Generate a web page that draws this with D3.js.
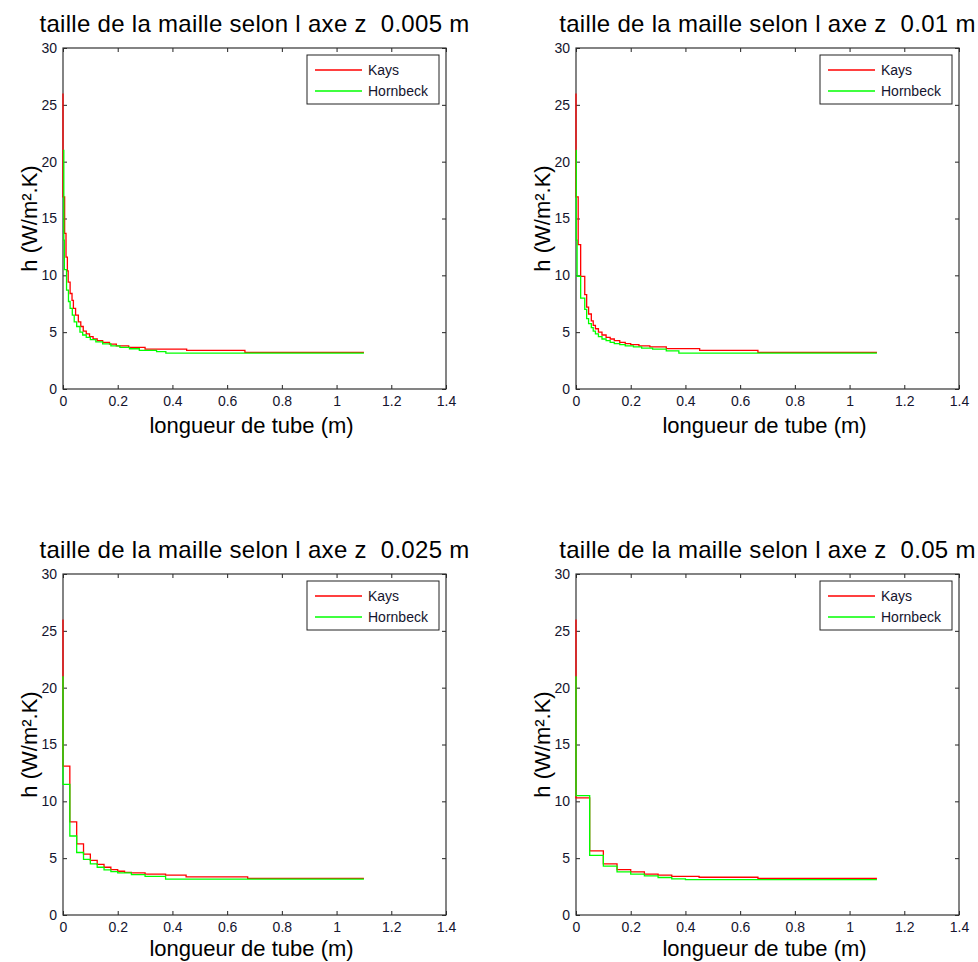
<!DOCTYPE html>
<html>
<head>
<meta charset="utf-8">
<script src="https://cdn.jsdelivr.net/npm/d3@7"></script>
<style>
  html, body { margin: 0; padding: 0; background: #fff; }
  svg { display: block; }
  text { font-family: "Liberation Sans", Arial, sans-serif; }
</style>
</head>
<body>
<svg id="chart" width="978" height="962"></svg>
<script>
// ---------- data ----------
const meshSizes = ["0.005", "0.01", "0.025", "0.05"];
const seriesNames = ["Kays", "Hornbeck"];
const xTicks = [0, 0.2, 0.4, 0.6, 0.8, 1, 1.2, 1.4];
const yTicks = [0, 5, 10, 15, 20, 25, 30];

// mesh 0.005 m
const kaysX_005 = [0, 0, 0.006, 0.011, 0.016, 0.019, 0.026, 0.033, 0.038, 0.046, 0.056, 0.065, 0.074, 0.085, 0.097, 0.11, 0.125, 0.145, 0.17, 0.195, 0.24, 0.3, 0.452, 0.665, 1.1];
const kaysH_005 = [26, 16.9, 13.7, 11.6, 10.4, 9.4, 8.4, 7.8, 7.1, 6.5, 5.9, 5.5, 5.1, 4.85, 4.6, 4.4, 4.25, 4.1, 3.95, 3.8, 3.66, 3.5, 3.4, 3.22, 3.22];
const hornX_005 = [0, 0.003, 0.005, 0.013, 0.02, 0.026, 0.034, 0.041, 0.05, 0.062, 0.072, 0.085, 0.1, 0.12, 0.145, 0.175, 0.208, 0.243, 0.279, 0.342, 0.376, 1.1];
const hornH_005 = [21, 13.1, 10.5, 8.7, 7.7, 7.1, 6.5, 5.9, 5.5, 5.0, 4.75, 4.55, 4.35, 4.15, 3.97, 3.8, 3.66, 3.54, 3.4, 3.28, 3.15, 3.15];

// mesh 0.01 m
const kaysX_01 = [0, 0, 0.008, 0.017, 0.032, 0.039, 0.046, 0.056, 0.063, 0.071, 0.082, 0.095, 0.11, 0.125, 0.14, 0.16, 0.18, 0.2, 0.23, 0.27, 0.33, 0.452, 0.665, 1.1];
const kaysH_01 = [26, 16.9, 12.7, 9.9, 8.3, 7.2, 6.6, 6.0, 5.6, 5.3, 5.0, 4.75, 4.55, 4.4, 4.25, 4.1, 4.0, 3.9, 3.8, 3.7, 3.55, 3.4, 3.22, 3.22];
const hornX_01 = [0, 0.001, 0.004, 0.017, 0.032, 0.039, 0.046, 0.056, 0.063, 0.071, 0.082, 0.095, 0.11, 0.125, 0.14, 0.16, 0.18, 0.21, 0.24, 0.28, 0.33, 0.376, 1.1];
const hornH_01 = [21, 13.1, 9.9, 8.0, 7.0, 6.2, 5.75, 5.4, 5.1, 4.85, 4.6, 4.4, 4.25, 4.1, 4.0, 3.9, 3.8, 3.7, 3.6, 3.5, 3.35, 3.15, 3.15];

// mesh 0.025 m
const kaysX_025 = [0, 0, 0.025, 0.05, 0.075, 0.1, 0.125, 0.15, 0.175, 0.2, 0.225, 0.25, 0.3, 0.375, 0.45, 0.675, 1.1];
const kaysH_025 = [26, 13.1, 8.2, 6.25, 5.35, 4.8, 4.45, 4.2, 4.0, 3.85, 3.75, 3.7, 3.6, 3.5, 3.35, 3.22, 3.22];
const hornX_025 = [0, 0, 0.025, 0.05, 0.075, 0.1, 0.125, 0.15, 0.175, 0.2, 0.25, 0.3, 0.375, 1.1];
const hornH_025 = [21, 11.5, 6.95, 5.5, 4.9, 4.5, 4.2, 3.97, 3.82, 3.7, 3.55, 3.4, 3.15, 3.15];

// mesh 0.05 m
const kaysX_05 = [0, 0, 0.05, 0.1, 0.15, 0.2, 0.25, 0.3, 0.35, 0.45, 0.665, 1.1];
const kaysH_05 = [26, 10.3, 5.65, 4.5, 4.0, 3.8, 3.6, 3.5, 3.4, 3.32, 3.22, 3.22];
const hornX_05 = [0, 0, 0.05, 0.1, 0.15, 0.2, 0.25, 0.3, 0.35, 0.4, 1.1];
const hornH_05 = [21, 10.5, 5.25, 4.3, 3.8, 3.6, 3.45, 3.3, 3.17, 3.12, 3.12];

const panelData = [
  { kx: kaysX_005, kh: kaysH_005, hx: hornX_005, hh: hornH_005 },
  { kx: kaysX_01,  kh: kaysH_01,  hx: hornX_01,  hh: hornH_01 },
  { kx: kaysX_025, kh: kaysH_025, hx: hornX_025, hh: hornH_025 },
  { kx: kaysX_05,  kh: kaysH_05,  hx: hornX_05,  hh: hornH_05 }
];

// ---------- layout ----------
const svg = d3.select("#chart");
const plotW = 383, plotH = 341;
const origins = [[63, 48], [576, 48], [63, 574], [576, 574]];
const xLabelOffset = [44, 44, 41, 41];
const colors = ["#ff0000", "#00ff00"];

panelData.forEach((pd, i) => {
  const [ox, oy] = origins[i];
  const g = svg.append("g").attr("transform", `translate(${ox},${oy})`);
  const x = d3.scaleLinear().domain([0, 1.4]).range([0, plotW]);
  const y = d3.scaleLinear().domain([0, 30]).range([plotH, 0]);

  // title
  g.append("text")
    .attr("x", plotW / 2).attr("y", -16)
    .attr("text-anchor", "middle")
    .attr("font-size", 24)
    .attr("letter-spacing", 0.3)
    .attr("fill", "#000")
    .style("white-space", "pre")
    .text(`taille de la maille selon l axe z  ${meshSizes[i]} m`);

  // axes
  const fmt = d => String(d);
  const axB = g.append("g").attr("transform", `translate(0,${plotH})`)
    .call(d3.axisBottom(x).tickValues(xTicks).tickFormat(fmt).tickSize(-4).tickPadding(7));
  const axT = g.append("g")
    .call(d3.axisTop(x).tickValues(xTicks).tickFormat("").tickSize(-4));
  const axL = g.append("g")
    .call(d3.axisLeft(y).tickValues(yTicks).tickFormat(fmt).tickSize(-4).tickPadding(6));
  const axR = g.append("g").attr("transform", `translate(${plotW},0)`)
    .call(d3.axisRight(y).tickValues(yTicks).tickFormat("").tickSize(-4));
  [axB, axT, axL, axR].forEach(a => {
    a.select(".domain").remove();
    a.selectAll("line").attr("stroke", "#222");
    a.selectAll("text").attr("font-size", 14).attr("fill", "#14142e")
      .attr("font-family", "Liberation Sans, Arial, sans-serif");
  });

  // box
  g.append("rect").attr("x", 0).attr("y", 0).attr("width", plotW).attr("height", plotH)
    .attr("fill", "none").attr("stroke", "#333").attr("stroke-width", 1.2);

  // lines
  const line = d3.line().x(d => x(d[0])).y(d => y(d[1])).curve(d3.curveStepAfter);
  const series = [d3.zip(pd.kx, pd.kh), d3.zip(pd.hx, pd.hh)];
  series.forEach((s, k) => {
    g.append("path").datum(s).attr("d", line)
      .attr("fill", "none").attr("stroke", colors[k]).attr("stroke-width", 1.3);
  });

  // axis labels
  g.append("text")
    .attr("x", plotW / 2 - 3).attr("y", plotH + xLabelOffset[i])
    .attr("text-anchor", "middle").attr("font-size", 22).attr("fill", "#000")
    .text("longueur de tube (m)");
  g.append("text")
    .attr("transform", `translate(-26,${plotH / 2}) rotate(-90)`)
    .attr("text-anchor", "middle").attr("font-size", 22).attr("fill", "#000")
    .text("h (W/m².K)");

  // legend
  const lg = g.append("g").attr("transform", `translate(${plotW - 139},7)`);
  lg.append("rect").attr("x", 0).attr("y", 0).attr("width", 132).attr("height", 49)
    .attr("fill", "#fff").attr("stroke", "#222").attr("stroke-width", 1);
  seriesNames.forEach((name, k) => {
    const ly = 15 + k * 21;
    lg.append("line").attr("x1", 8).attr("x2", 55).attr("y1", ly).attr("y2", ly)
      .attr("stroke", colors[k]).attr("stroke-width", 1.3);
    lg.append("text").attr("x", 61).attr("y", ly + 5)
      .attr("font-size", 14).attr("fill", "#14142e").text(name);
  });
});
</script>
</body>
</html>
